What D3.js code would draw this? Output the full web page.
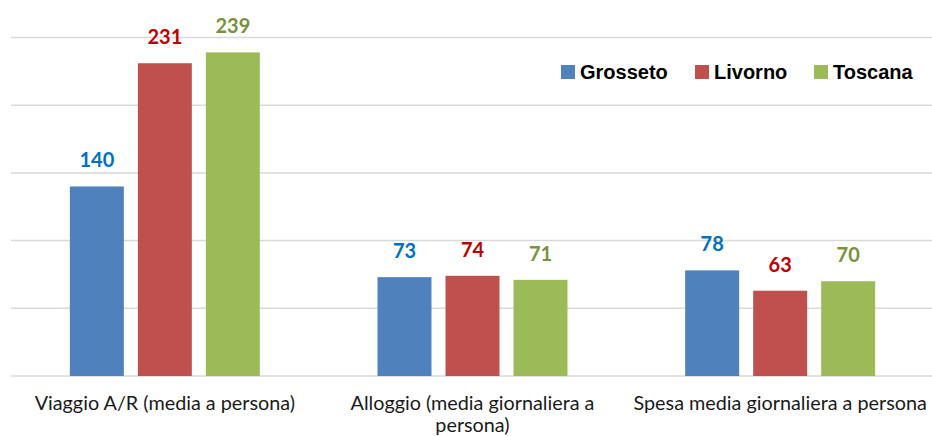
<!DOCTYPE html>
<html>
<head>
<meta charset="utf-8">
<script src="https://cdn.jsdelivr.net/npm/d3@7"></script>
<style>
  html, body { margin: 0; padding: 0; background: #fff; }
  svg { display: block; }
</style>
</head>
<body>
<svg id="chart" width="932" height="436"></svg>
<script>
const categories = ["Viaggio A/R (media a persona)", "Alloggio (media giornaliera a persona)", "Spesa media giornaliera a persona"];
const seriesNames = ["Grosseto", "Livorno", "Toscana"];
const grosseto = [140, 73, 78];
const livorno = [231, 74, 63];
const toscana = [239, 71, 70];
const yTicks = [0, 50, 100, 150, 200, 250];

const seriesValues = [grosseto, livorno, toscana];
const barColors = ["#4F81BD", "#C0504D", "#9BBB59"];
const labelColors = ["#0070C0", "#C00000", "#77933C"];

const svg = d3.select("#chart");
const W = 932, H = 436;
const mLeft = 11, mRight = 934, mTop = 37.5, mBottom = 376;

const y = d3.scaleLinear().domain([0, 250]).range([mBottom, mTop]);
const x0 = d3.scaleBand().domain(categories).range([mLeft, mRight]).padding(0);
const x1 = d3.scaleBand().domain(seriesNames).range([0, 204]).paddingInner(0.206).paddingOuter(0.103);

// gridlines
svg.append("g").selectAll("line").data(yTicks).join("line")
  .attr("x1", mLeft).attr("x2", W)
  .attr("y1", d => y(d)).attr("y2", d => y(d))
  .attr("stroke", "#d9d9d9").attr("stroke-width", 1.5);

const rows = categories.map((c, i) => ({ cat: c, vals: seriesNames.map((s, j) => ({ s, j, v: seriesValues[j][i] })) }));

const groups = svg.append("g").selectAll("g").data(rows).join("g")
  .attr("transform", d => `translate(${x0(d.cat) + x0.bandwidth() / 2 - 102},0)`);

groups.selectAll("rect").data(d => d.vals).join("rect")
  .attr("x", d => x1(d.s))
  .attr("width", x1.bandwidth())
  .attr("y", d => y(d.v))
  .attr("height", d => y(0) - y(d.v))
  .attr("fill", d => barColors[d.j]);

groups.selectAll("text").data(d => d.vals).join("text")
  .attr("x", d => x1(d.s) + x1.bandwidth() / 2)
  .attr("y", d => y(d.v) - 19)
  .attr("text-anchor", "middle")
  .attr("font-family", "Lato, sans-serif")
  .attr("font-weight", "bold")
  .attr("font-size", 20)
  .attr("fill", d => labelColors[d.j])
  .text(d => d.v);

// category axis labels with wrapping
const axisG = svg.append("g");
categories.forEach(c => {
  const cx = x0(c) + x0.bandwidth() / 2;
  const t = axisG.append("text")
    .attr("x", cx).attr("y", 410)
    .attr("text-anchor", "middle")
    .attr("font-family", "Lato, sans-serif")
    .attr("font-size", 19.8)
    .attr("fill", "#1a1a1a");
  const words = c.split(" ");
  let line = [];
  let tspan = t.append("tspan").attr("x", cx).attr("dy", 0);
  const maxW = 305;
  words.forEach(w => {
    line.push(w);
    tspan.text(line.join(" "));
    if (tspan.node().getComputedTextLength() > maxW && line.length > 1) {
      line.pop();
      tspan.text(line.join(" "));
      line = [w];
      tspan = t.append("tspan").attr("x", cx).attr("dy", 22).text(w);
    }
  });
});

// legend
const legendX = [561, 695, 814];
const lg = svg.append("g");
seriesNames.forEach((s, j) => {
  lg.append("rect").attr("x", legendX[j]).attr("y", 65).attr("width", 14).attr("height", 14).attr("fill", barColors[j]);
  lg.append("text").attr("x", legendX[j] + 19).attr("y", 79)
    .attr("font-family", "'Liberation Sans', Arial, sans-serif").attr("font-weight", "bold")
    .attr("font-size", 20).attr("fill", "#000").text(s);
});
</script>
</body>
</html>
